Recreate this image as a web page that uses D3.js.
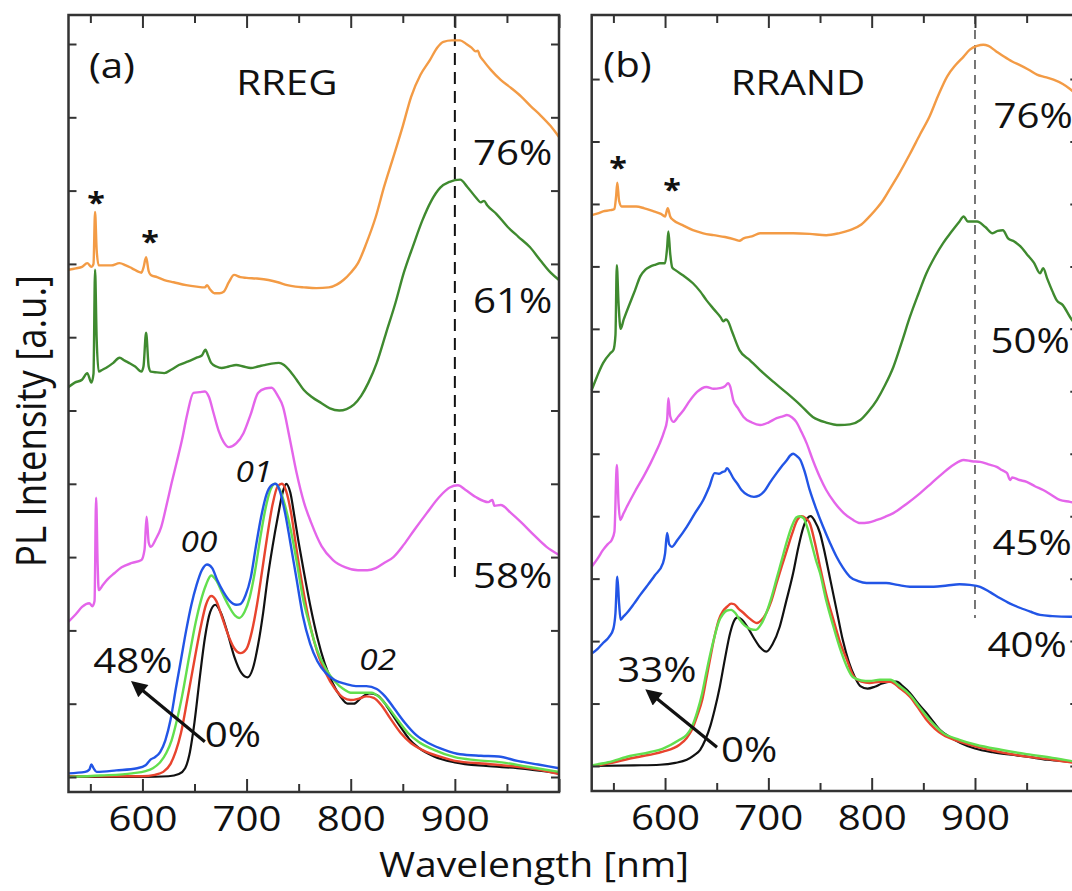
<!DOCTYPE html>
<html><head><meta charset="utf-8">
<script src="https://cdn.jsdelivr.net/npm/d3@7"></script>
<style>
body{margin:0;background:#fff;}
svg{display:block;}
text{font-family:"Open Sans",sans-serif;fill:#111;}
</style>
</head><body>
<svg id="chart" width="1072" height="891"></svg>
<script>
// ---------------- DATA ----------------
const wavelengthDomain = [529, 1000];
const majorTicks = [600, 700, 800, 900, 1000];
const minorTicks = [550, 650, 750, 850, 950];
const tickLabels = [600, 700, 800, 900];
const yTicksA = [0,1,2,3,4,5,6,7,8,9,10];
const yTicksB = [0,1,2,3,4,5,6,7,8,9,10,11];

// Panel (a) RREG, [wavelength nm, PL intensity a.u. (offset)]
const a_0 = [[529,0],[600,0],[625,0.01],[635,0.04],[641,0.12],[645,0.3],[650,0.75],[655,1.35],[660,1.9],[665,2.25],[670,2.35],[675,2.25],[681,2.0],[688,1.65],[695,1.42],[701,1.36],[706,1.48],[711,1.8],[716,2.25],[720,2.69],[725,3.15],[730,3.55],[735,3.9],[738,4.0],[742,3.88],[746,3.55],[750,3.2],[755,2.8],[761,2.35],[768,1.9],[775,1.55],[782,1.3],[790,1.1],[797,1.0],[803,1.0],[810,1.08],[818,1.14],[825,1.12],[832,1.02],[840,0.85],[848,0.68],[856,0.52],[865,0.4],[880,0.28],[900,0.2],[930,0.15],[960,0.12],[1000,0.05]];
const a_red = [[529,0.01],[600,0.01],[612,0.03],[620,0.07],[627,0.18],[632,0.35],[637,0.6],[643,1.05],[650,1.6],[656,2.05],[661,2.35],[666,2.47],[671,2.4],[676,2.2],[682,1.95],[688,1.76],[694,1.69],[700,1.75],[705,1.98],[710,2.35],[715,2.82],[720,3.3],[725,3.72],[730,3.97],[734,4.0],[738,3.9],[743,3.58],[748,3.1],[754,2.58],[761,2.07],[768,1.7],[776,1.42],[785,1.2],[793,1.08],[800,1.05],[808,1.07],[815,1.1],[822,1.08],[830,0.97],[838,0.8],[848,0.6],[858,0.46],[870,0.36],[885,0.28],[900,0.22],[930,0.18],[960,0.14],[980,0.1],[1000,0.04]];
const a_green = [[529,0.0],[560,0.02],[590,0.05],[603,0.08],[610,0.12],[617,0.2],[623,0.33],[628,0.5],[633,0.77],[638,1.1],[645,1.65],[651,2.1],[656,2.4],[661,2.62],[666,2.75],[671,2.68],[677,2.5],[683,2.33],[689,2.2],[693,2.17],[698,2.25],[703,2.45],[708,2.8],[713,3.25],[718,3.65],[723,3.92],[727,4.0],[732,3.92],[737,3.7],[742,3.4],[748,2.95],[754,2.45],[761,2.05],[768,1.72],[776,1.48],[785,1.3],[793,1.2],[800,1.15],[810,1.15],[820,1.15],[828,1.08],[836,0.95],[845,0.78],[855,0.6],[865,0.48],[880,0.37],[900,0.27],[920,0.23],[945,0.2],[970,0.14],[1000,0.07]];
const a_48 = [[529,0.05],[545,0.07],[549,0.1],[551,0.17],[553,0.12],[556,0.07],[575,0.09],[595,0.12],[603,0.16],[608,0.24],[612,0.27],[617,0.34],[622,0.5],[627,0.78],[632,1.2],[637,1.6],[642,2.0],[647,2.35],[652,2.62],[657,2.82],[662,2.9],[667,2.85],[672,2.68],[678,2.52],[684,2.4],[690,2.35],[694,2.36],[699,2.48],[704,2.72],[709,3.15],[714,3.55],[719,3.85],[724,3.98],[728,4.0],[732,3.9],[737,3.6],[742,3.2],[748,2.7],[754,2.2],[761,1.82],[768,1.58],[776,1.42],[785,1.32],[795,1.27],[805,1.24],[815,1.24],[825,1.2],[833,1.1],[842,0.93],[852,0.74],[863,0.57],[875,0.46],[890,0.37],[905,0.31],[925,0.29],[942,0.28],[960,0.22],[980,0.17],[1000,0.12]];
const a_58 = [[529,2.12],[536,2.22],[542,2.32],[549,2.37],[552,2.33],[554,2.4],[555.5,3.81],[557,2.9],[558,2.55],[562,2.62],[566,2.69],[573,2.78],[580,2.86],[590,2.92],[599,2.96],[602,3.1],[604,3.55],[606,3.2],[608,3.14],[613,3.25],[618,3.41],[623,3.7],[628,4.01],[633,4.3],[638,4.6],[643,4.95],[649,5.24],[655,5.25],[660,5.26],[664,5.18],[668,4.98],[673,4.73],[678,4.57],[683,4.5],[690,4.55],[697,4.69],[704,4.95],[711,5.24],[718,5.3],[724,5.31],[730,5.2],[735,5.05],[741,4.65],[748,4.15],[755,3.75],[762,3.47],[772,3.15],[783,2.96],[795,2.86],[807,2.82],[816,2.82],[824,2.85],[832,2.92],[841,3.0],[851,3.17],[861,3.37],[873,3.6],[885,3.82],[895,3.95],[903,3.98],[910,3.92],[920,3.82],[932,3.75],[936,3.78],[938,3.7],[944,3.71],[954,3.6],[964,3.47],[976,3.3],[988,3.14],[1000,3.03]];
const a_61 = [[529,5.32],[535,5.38],[542,5.42],[547,5.51],[551,5.38],[553,5.5],[554.5,6.92],[556,6.0],[558,5.53],[562,5.56],[566,5.59],[572,5.65],[578,5.72],[583,5.68],[587,5.65],[593,5.6],[599,5.53],[601,5.6],[603.5,6.06],[606,5.6],[608,5.53],[614,5.52],[621,5.51],[628,5.56],[635,5.62],[644,5.67],[652,5.72],[657,5.75],[660.5,5.83],[663,5.75],[666,5.65],[671,5.6],[676,5.58],[683,5.6],[690,5.62],[697,5.6],[704,5.58],[711,5.6],[717,5.62],[724,5.64],[731,5.65],[736,5.62],[741,5.55],[748,5.42],[755,5.28],[763,5.18],[772,5.1],[780,5.03],[789,5.0],[796,5.02],[803,5.08],[810,5.2],[817,5.38],[825,5.65],[834,6.06],[843,6.47],[851,6.88],[860,7.25],[869,7.6],[877,7.85],[886,8.04],[895,8.12],[905,8.15],[912,8.05],[920,7.91],[925,7.84],[928,7.86],[931,7.8],[940,7.68],[951,7.5],[961,7.37],[972,7.23],[982,7.05],[992,6.88],[1000,6.78]];
const a_76 = [[529,6.92],[536,6.94],[542,6.96],[547,7.01],[551,6.96],[553,7.0],[554.5,7.71],[556,7.2],[558,6.98],[564,6.98],[570,6.98],[578,7.01],[584,6.98],[590,6.94],[599,6.88],[601,6.95],[603.5,7.09],[606,6.9],[608,6.85],[614,6.82],[621,6.78],[630,6.75],[642,6.71],[652,6.69],[660,6.68],[662,6.71],[665,6.65],[669,6.6],[674,6.6],[678,6.62],[683,6.75],[688,6.85],[694,6.82],[700,6.81],[710,6.8],[721,6.78],[730,6.75],[739,6.71],[747,6.69],[755,6.68],[767,6.67],[779,6.68],[787,6.72],[793,6.78],[800,6.88],[807,7.01],[815,7.28],[824,7.64],[832,8.05],[841,8.46],[850,8.88],[858,9.28],[867,9.58],[876,9.78],[883,9.95],[889,10.03],[897,10.05],[905,10.05],[911,10.0],[916,9.95],[920,9.9],[922,9.91],[924,9.84],[927,9.78],[935,9.64],[944,9.51],[954,9.4],[964,9.28],[973,9.15],[982,9.03],[992,8.88],[1000,8.73]];

// Panel (b) RRAND
const b_0 = [[529,0],[570,0.01],[595,0.02],[610,0.05],[621,0.1],[628,0.17],[634,0.26],[639,0.42],[644,0.65],[648,0.9],[653,1.27],[658,1.72],[663,2.13],[667,2.33],[670,2.38],[674,2.35],[680,2.22],[686,2.05],[692,1.9],[698,1.83],[704,1.95],[711,2.23],[717,2.62],[724,3.09],[729,3.5],[734,3.83],[738,3.97],[741,4.0],[745,3.92],[750,3.73],[755,3.38],[760,2.98],[766,2.5],[772,2.02],[778,1.66],[783,1.45],[789,1.28],[796,1.24],[803,1.27],[810,1.32],[818,1.35],[824,1.35],[830,1.28],[837,1.17],[845,1.0],[853,0.85],[860,0.7],[866,0.58],[876,0.46],[886,0.37],[900,0.28],[917,0.22],[935,0.18],[950,0.15],[970,0.1],[992,0.07],[1000,0.06]];
const b_red = [[529,0.0],[545,0.04],[566,0.12],[585,0.18],[598,0.23],[614,0.34],[621,0.45],[626,0.58],[631,0.8],[636,1.06],[640,1.4],[644,1.75],[648,2.08],[652,2.34],[656,2.48],[660,2.55],[664,2.6],[667,2.59],[671,2.52],[676,2.45],[682,2.36],[689,2.29],[694,2.35],[698,2.45],[703,2.65],[708,2.93],[713,3.2],[718,3.46],[723,3.72],[728,3.94],[732,4.0],[736,3.97],[740,3.89],[745,3.58],[750,3.19],[756,2.75],[763,2.34],[770,1.95],[776,1.7],[782,1.45],[790,1.35],[798,1.33],[808,1.35],[818,1.35],[827,1.25],[837,1.11],[845,0.93],[853,0.74],[861,0.6],[869,0.5],[885,0.39],[901,0.31],[925,0.22],[950,0.15],[975,0.1],[1000,0.04]];
const b_33 = [[529,0.01],[545,0.06],[566,0.16],[585,0.22],[598,0.28],[614,0.42],[621,0.5],[626,0.63],[631,0.86],[636,1.17],[640,1.5],[644,1.81],[648,2.08],[652,2.31],[656,2.43],[660,2.49],[664,2.5],[668,2.45],[672,2.35],[677,2.25],[683,2.19],[688,2.18],[693,2.27],[698,2.45],[703,2.7],[708,3.0],[713,3.3],[718,3.6],[723,3.85],[727,3.98],[730,4.0],[734,3.97],[738,3.8],[742,3.55],[746,3.3],[750,3.09],[756,2.65],[763,2.23],[770,1.85],[776,1.59],[782,1.42],[790,1.37],[798,1.36],[808,1.38],[818,1.38],[827,1.28],[837,1.14],[845,0.97],[853,0.8],[861,0.65],[869,0.53],[885,0.42],[901,0.34],[925,0.26],[950,0.19],[975,0.13],[1000,0.06]];
const b_40 = [[529,1.8],[535,1.88],[540,1.97],[546,2.07],[550,2.2],[552,2.45],[553.8,3.03],[555.5,2.6],[557,2.34],[560,2.4],[563,2.45],[570,2.6],[576,2.74],[582,2.87],[590,3.05],[598,3.25],[600,3.4],[602,3.73],[604,3.55],[606.5,3.51],[612,3.62],[621,3.83],[629,4.05],[637,4.26],[643,4.48],[648,4.69],[652,4.68],[656,4.71],[658,4.72],[660,4.77],[663,4.7],[666,4.61],[670,4.52],[674,4.42],[680,4.34],[686,4.31],[691,4.33],[697,4.42],[702,4.55],[708,4.69],[713,4.8],[718,4.9],[721,4.97],[724,5.0],[727,4.97],[731,4.9],[735,4.72],[740,4.42],[746,4.13],[753,3.83],[760,3.56],[766,3.35],[772,3.18],[779,3.03],[787,2.96],[795,2.93],[805,2.93],[814,2.93],[825,2.9],[837,2.87],[848,2.87],[860,2.87],[873,2.89],[885,2.91],[895,2.9],[905,2.87],[915,2.78],[924,2.69],[934,2.6],[944,2.53],[954,2.47],[963,2.42],[975,2.4],[992,2.39],[1000,2.39]];
const b_45 = [[529,3.19],[535,3.33],[540,3.46],[545,3.56],[548.4,3.62],[551,3.75],[553.3,4.82],[555,4.2],[556.5,3.94],[560,4.05],[563,4.15],[571,4.4],[579,4.63],[586,4.85],[592,5.06],[595,5.17],[599,5.35],[602,5.54],[603.2,5.89],[605,5.6],[608,5.51],[613,5.6],[618,5.7],[624,5.85],[631,5.99],[640,6.07],[647,6.04],[653,6.05],[658,6.08],[661,6.13],[663,6.08],[666,5.86],[671,5.72],[676,5.59],[684,5.5],[692,5.46],[700,5.5],[708,5.57],[714,5.6],[718,5.62],[723,5.58],[727,5.51],[732,5.35],[737,5.17],[743,4.9],[750,4.62],[756,4.42],[764,4.22],[773,4.05],[781,3.95],[789,3.89],[797,3.9],[805,3.94],[813,3.99],[821,4.05],[834,4.2],[847,4.37],[858,4.53],[869,4.69],[879,4.82],[889,4.9],[897,4.88],[905,4.87],[913,4.83],[921,4.79],[926,4.74],[931,4.69],[934,4.58],[936,4.62],[943,4.58],[950,4.55],[958,4.48],[966,4.42],[974,4.34],[982,4.26],[992,4.23],[1000,4.2]];
const b_50 = [[529,6.02],[534,6.23],[540,6.45],[547,6.61],[550,6.66],[552,6.9],[553.3,8.02],[555,7.4],[557,7.0],[560,7.15],[566,7.41],[571,7.62],[576,7.84],[581,7.95],[586,8.0],[591,8.03],[595,8.05],[600,8.05],[602,8.3],[603.2,8.56],[605,8.2],[607,7.98],[610,7.94],[618,7.85],[627,7.73],[634,7.6],[640,7.46],[648,7.3],[654,7.18],[656.4,7.12],[659,7.15],[661,7.12],[665,6.95],[672,6.66],[682,6.5],[692,6.34],[705,6.15],[718,5.97],[731,5.78],[743,5.59],[756,5.5],[769,5.46],[779,5.47],[789,5.54],[797,5.68],[805,5.86],[813,6.1],[821,6.39],[829,6.78],[837,7.19],[845,7.55],[853,7.89],[861,8.15],[869,8.37],[877,8.55],[885,8.72],[889,8.8],[893,8.72],[902,8.72],[910,8.63],[917,8.53],[922,8.57],[927,8.58],[932,8.45],[938,8.4],[944,8.32],[950,8.2],[957,8.06],[963,7.89],[966,7.97],[970,7.8],[975,7.6],[979,7.46],[985,7.38],[992,7.19],[1000,7.0]];
const b_76 = [[529,8.82],[535,8.85],[540,8.88],[547,8.9],[551,8.92],[552.5,9.1],[553.8,9.34],[555.5,9.05],[558,8.96],[565,8.96],[572,8.96],[580,8.93],[589,8.88],[596,8.84],[600,8.8],[602.6,8.93],[605,8.8],[608,8.74],[617,8.66],[627,8.58],[637,8.53],[647,8.5],[658,8.47],[668,8.43],[672,8.41],[676,8.45],[684,8.48],[692,8.53],[708,8.53],[724,8.53],[740,8.52],[756,8.5],[768,8.53],[779,8.58],[790,8.67],[798,8.8],[805,8.93],[811,9.06],[818,9.25],[826,9.47],[837,9.8],[847,10.12],[856,10.4],[864,10.72],[873,11.04],[881,11.22],[889,11.36],[895,11.47],[902,11.53],[908,11.55],[913,11.53],[920,11.45],[928,11.36],[936,11.28],[944,11.22],[952,11.15],[960,11.07],[968,11.03],[976,10.99],[985,10.92],[992,10.84],[1000,10.72]];

const percentLabelsA = ["76%", "61%", "58%", "48%", "0%"];
const percentLabelsB = ["76%", "50%", "45%", "40%", "33%", "0%"];
const peakLabels = ["00", "01", "02"];

const C = {orange:"#f39b45", dgreen:"#3f8a2f", magenta:"#e465ea", blue:"#2255e6", lgreen:"#62df4e", red:"#e8442e", black:"#111111"};

// ---------------- DRAWING ----------------
const svg = d3.select("#chart");
const SX = 1.15;   // horizontal stretch of the original figure's lettering
const FS = 35;

const defs = svg.append("defs");
defs.append("marker").attr("id","arrowhead").attr("viewBox","0 0 10 10")
  .attr("refX",2).attr("refY",5).attr("markerWidth",18).attr("markerHeight",16)
  .attr("markerUnits","userSpaceOnUse").attr("orient","auto")
  .append("path").attr("d","M0,0 L10,5 L0,10 Z").attr("fill","#111");

function txt(g, x, y, s, opt = {}) {
  const t = g.append("text")
    .attr("transform", `translate(${x},${y}) scale(${SX},1)` + (opt.rotate ? ` rotate(${opt.rotate})` : ""))
    .attr("text-anchor", opt.anchor || "middle")
    .attr("font-size", opt.size || FS)
    .text(s);
  if (opt.italic) t.attr("font-style", "italic");
  if (opt.bold) t.attr("font-weight", "bold");
  return t;
}

function drawPanel(p) {
  const g = svg.append("g");
  const x = d3.scaleLinear().domain(wavelengthDomain).range([p.left, p.right]);
  const y = d3.scaleLinear().domain([0, 1]).range([p.y0, p.y0 - p.unit]);
  const line = d3.line().x(d => x(d[0])).y(d => y(d[1])).curve(d3.curveMonotoneX);

  // dashed guide at 900 nm
  g.append("line").attr("x1", x(900)).attr("x2", x(900))
    .attr("y1", p.top).attr("y2", y(p.dashEnd))
    .attr("stroke", p.dashColor).attr("stroke-width", p.dashWidth)
    .attr("stroke-dasharray", p.dashArray);

  // curves
  p.series.forEach(s => {
    g.append("path").datum(s.data).attr("d", line)
      .attr("fill", "none").attr("stroke", s.color)
      .attr("stroke-width", s.w || 2.4).attr("stroke-linejoin", "round");
  });

  // axes (ticks pointing inward)
  const axStyle = sel => {
    sel.select(".domain").remove();
    sel.selectAll("line").attr("stroke", "#333").attr("stroke-width", 2);
  };
  const bottom = g.append("g").attr("transform", `translate(0,${p.bottom})`)
    .call(d3.axisBottom(x).tickValues(majorTicks).tickSize(-13).tickSizeOuter(0).tickPadding(14)
      .tickFormat(d => tickLabels.includes(d) ? d : ""));
  axStyle(bottom);
  bottom.selectAll("text").attr("font-size", FS).attr("fill", "#111")
    .attr("font-family", '"Open Sans",sans-serif')
    .attr("transform", `scale(${SX},1)`);
  g.append("g").attr("transform", `translate(0,${p.bottom})`)
    .call(d3.axisBottom(x).tickValues(minorTicks).tickSize(-8).tickSizeOuter(0).tickFormat(""))
    .call(axStyle);
  g.append("g").attr("transform", `translate(0,${p.top})`)
    .call(d3.axisTop(x).tickValues(majorTicks).tickSize(-13).tickSizeOuter(0).tickFormat(""))
    .call(axStyle);
  g.append("g").attr("transform", `translate(0,${p.top})`)
    .call(d3.axisTop(x).tickValues(minorTicks).tickSize(-8).tickSizeOuter(0).tickFormat(""))
    .call(axStyle);
  g.append("g").attr("transform", `translate(${p.left},0)`)
    .call(d3.axisLeft(y).tickValues(p.yTicks).tickSize(-8).tickSizeOuter(0).tickFormat(""))
    .call(axStyle);
  g.append("g").attr("transform", `translate(${p.right},0)`)
    .call(d3.axisRight(y).tickValues(p.yTicks).tickSize(-8).tickSizeOuter(0).tickFormat(""))
    .call(axStyle);

  // frame
  g.append("rect").attr("x", p.left).attr("y", p.top)
    .attr("width", p.right - p.left).attr("height", p.bottom - p.top)
    .attr("fill", "none").attr("stroke", "#333").attr("stroke-width", 2.5);

  // annotations
  p.labels.forEach(l => txt(g, x(l.nm), y(l.v), l.text, l.opt || {}));
  p.stars.forEach(s => txt(g, x(s[0]), y(s[1]) + 15, "*", {size: 28, bold: true}));
  g.append("line")
    .attr("x1", x(p.arrow[0][0])).attr("y1", y(p.arrow[0][1]))
    .attr("x2", x(p.arrow[1][0])).attr("y2", y(p.arrow[1][1]))
    .attr("stroke", "#111").attr("stroke-width", 3.2)
    .attr("marker-end", "url(#arrowhead)");
}

// Panel (a)
drawPanel({
  left: 68.5, right: 559, top: 15, bottom: 792, y0: 777, unit: 73.3, yTicks: yTicksA,
  dashEnd: 2.73, dashColor: "#111", dashWidth: 2, dashArray: "12,7",
  series: [
    {data: a_76, color: C.orange}, {data: a_61, color: C.dgreen}, {data: a_58, color: C.magenta},
    {data: a_0, color: C.black, w: 2.2}, {data: a_red, color: C.red}, {data: a_green, color: C.lgreen},
    {data: a_48, color: C.blue}
  ],
  labels: [
    {nm: 570.7, v: 9.54, text: "(a)"},
    {nm: 738.6, v: 9.3, text: "RREG"},
    {nm: 955.4, v: 8.35, text: percentLabelsA[0]},
    {nm: 955.4, v: 6.33, text: percentLabelsA[1]},
    {nm: 955.4, v: 2.58, text: percentLabelsA[2]},
    {nm: 590.9, v: 1.42, text: percentLabelsA[3]},
    {nm: 686.8, v: 0.41, text: percentLabelsA[4]},
    {nm: 654.2, v: 3.07, text: peakLabels[0], opt: {italic: true, size: 29}},
    {nm: 706.9, v: 4.02, text: peakLabels[1], opt: {italic: true, size: 29}},
    {nm: 825.9, v: 1.46, text: peakLabels[2], opt: {italic: true, size: 29}}
  ],
  stars: [[555.4, 7.9], [607.2, 7.37]],
  arrow: [[659.9, 0.48], [598.5, 1.2]]
});

// Panel (b)
drawPanel({
  left: 591.7, right: 1078.3, top: 15, bottom: 791, y0: 766, unit: 62.45, yTicks: yTicksB,
  dashEnd: 2.37, dashColor: "#555", dashWidth: 1.6, dashArray: "9,6",
  series: [
    {data: b_76, color: C.orange}, {data: b_50, color: C.dgreen}, {data: b_45, color: C.magenta},
    {data: b_40, color: C.blue}, {data: b_0, color: C.black, w: 2.2}, {data: b_red, color: C.red},
    {data: b_33, color: C.lgreen}
  ],
  labels: [
    {nm: 563.7, v: 11.03, text: "(b)"},
    {nm: 728.7, v: 10.74, text: "RRAND"},
    {nm: 956.2, v: 10.22, text: percentLabelsB[0]},
    {nm: 953.3, v: 6.61, text: percentLabelsB[1]},
    {nm: 955.2, v: 3.38, text: percentLabelsB[2]},
    {nm: 950.4, v: 1.75, text: percentLabelsB[3]},
    {nm: 592.2, v: 1.35, text: percentLabelsB[4]},
    {nm: 681.3, v: 0.06, text: percentLabelsB[5]}
  ],
  stars: [[554.5, 9.66], [606.7, 9.3]],
  arrow: [[650.3, 0.3], [590.5, 1.1]]
});

// axis titles
txt(svg, 534, 877, "Wavelength [nm]", {size: 34});
svg.append("text")
  .attr("transform", `translate(46,421) scale(${SX},1) rotate(-90)`)
  .attr("text-anchor", "middle").attr("font-size", 36.5)
  .text("PL Intensity [a.u.]");
</script>
</body></html>
